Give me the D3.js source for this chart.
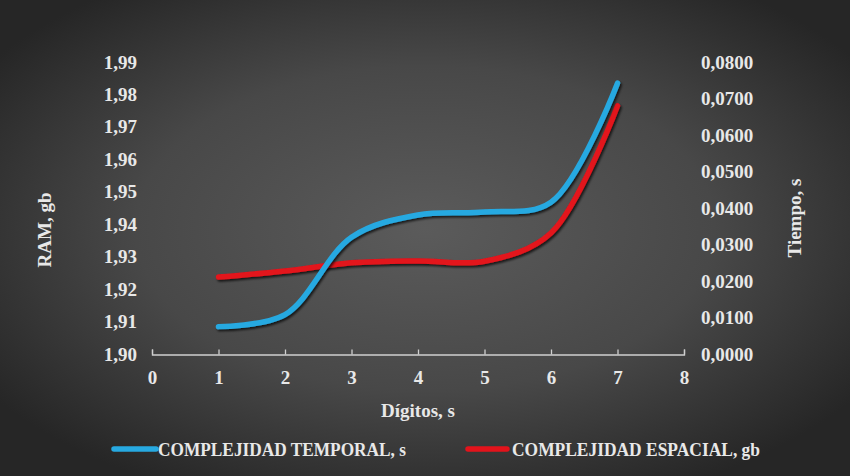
<!DOCTYPE html>
<html>
<head>
<meta charset="utf-8">
<script src="https://cdn.jsdelivr.net/npm/d3@7"></script>
<style>
  html, body { margin: 0; padding: 0; background: #2a2a2a; }
  svg { display: block; }
  .tick text { font-family: "Liberation Serif", "DejaVu Serif", serif; font-weight: bold; fill: #e8e8e8; }
</style>
</head>
<body>
<div id="chart"></div>
<script>
// Chart data
const digitos = [1, 2, 3, 4, 5, 6, 7];
const tiempo = [0.0075, 0.0108, 0.0320, 0.0381, 0.0389, 0.0416, 0.0742];   // blue, right axis
const ram = [1.9237, 1.9256, 1.9281, 1.9287, 1.9286, 1.9373, 1.9765];     // red, left axis
const xTicks = [0, 1, 2, 3, 4, 5, 6, 7, 8];
const ramTicks = [1.90, 1.91, 1.92, 1.93, 1.94, 1.95, 1.96, 1.97, 1.98, 1.99];
const tiempoTicks = [0, 0.01, 0.02, 0.03, 0.04, 0.05, 0.06, 0.07, 0.08];
const legendLabels = ["COMPLEJIDAD TEMPORAL, s", "COMPLEJIDAD ESPACIAL, gb"];

const BLUE = "#27a9e1", RED = "#e3131b";
const width = 850, height = 476;
const FONT = "'Liberation Serif', 'DejaVu Serif', serif";
const loc = d3.formatLocale({ decimal: ",", thousands: ".", grouping: [3], currency: ["", ""] });

const svg = d3.select("#chart").append("svg")
    .attr("width", width)
    .attr("height", height);

// background + shadow filter
const defs = svg.append("defs");
const grad = defs.append("radialGradient").attr("id", "bg")
    .attr("cx", "50%").attr("cy", "48%").attr("r", "62%");
grad.append("stop").attr("offset", "0%").attr("stop-color", "#5b5b5b");
grad.append("stop").attr("offset", "55%").attr("stop-color", "#484848");
grad.append("stop").attr("offset", "100%").attr("stop-color", "#262626");

const sh = defs.append("filter").attr("id", "shadow")
    .attr("x", "-10%").attr("y", "-10%").attr("width", "120%").attr("height", "120%");
sh.append("feDropShadow").attr("dx", 1.5).attr("dy", 2).attr("stdDeviation", 1.2)
    .attr("flood-color", "#000").attr("flood-opacity", 0.7);

svg.append("rect").attr("width", width).attr("height", height).attr("fill", "url(#bg)");

const x = d3.scaleLinear().domain([0, 8]).range([152, 684]);
const yL = d3.scaleLinear().domain([1.90, 1.99]).range([354, 62]);
const yR = d3.scaleLinear().domain([0, 0.08]).range([354, 62]);

// Left axis (RAM)
svg.append("g")
    .attr("transform", "translate(137,0)")
    .call(d3.axisLeft(yL).tickValues(ramTicks).tickSize(0).tickPadding(0).tickFormat(loc.format(".2f")))
    .call(g => g.select(".domain").remove())
    .selectAll("text").style("font-size", "19px");

// Right axis (Tiempo)
svg.append("g")
    .attr("transform", "translate(701,0)")
    .call(d3.axisRight(yR).tickValues(tiempoTicks).tickSize(0).tickPadding(0).tickFormat(loc.format(".4f")))
    .call(g => g.select(".domain").remove())
    .selectAll("text").style("font-size", "19px");

// X axis, ticks pointing up
const xa = svg.append("g")
    .attr("transform", "translate(0,354.5)")
    .call(d3.axisBottom(x).tickValues(xTicks).tickSizeInner(-5).tickSizeOuter(-5).tickPadding(16).tickFormat(d3.format("d")));
xa.select(".domain").attr("stroke", "#d0d0d0").attr("stroke-width", 1.3);
xa.selectAll(".tick line").attr("stroke", "#d0d0d0").attr("stroke-width", 1.3);
xa.selectAll("text").style("font-size", "19px");

// Axis titles
const title = (t) => svg.append("text")
    .attr("font-family", FONT)
    .attr("font-weight", "bold")
    .attr("font-size", 19)
    .attr("fill", "#e8e8e8")
    .attr("text-anchor", "middle")
    .text(t);

title("RAM, gb").attr("transform", "translate(51,230) rotate(-90)");
title("Tiempo, s").attr("transform", "translate(801,218) rotate(-90)");
title("Dígitos, s").attr("x", 418).attr("y", 417);

// Lines
const curve = d3.curveCatmullRom.alpha(0.5);
const lineR = d3.line().x((d, i) => x(digitos[i])).y(d => yL(d)).curve(curve);
const lineB = d3.line().x((d, i) => x(digitos[i])).y(d => yR(d)).curve(curve);

svg.append("path").datum(ram)
    .attr("d", lineR)
    .attr("fill", "none").attr("stroke", RED).attr("stroke-width", 5.5)
    .attr("stroke-linecap", "round").attr("filter", "url(#shadow)");

svg.append("path").datum(tiempo)
    .attr("d", lineB)
    .attr("fill", "none").attr("stroke", BLUE).attr("stroke-width", 5.5)
    .attr("stroke-linecap", "round").attr("filter", "url(#shadow)");

// Legend
const legend = svg.append("g");
const items = [
    { label: legendLabels[0], color: BLUE, x0: 114, x1: 156, tx: 158 },
    { label: legendLabels[1], color: RED, x0: 468, x1: 507, tx: 512 }
];
items.forEach(it => {
    legend.append("line")
        .attr("x1", it.x0).attr("x2", it.x1)
        .attr("y1", 449).attr("y2", 449)
        .attr("stroke", it.color).attr("stroke-width", 5.5)
        .attr("stroke-linecap", "round");
    legend.append("text")
        .attr("x", it.tx).attr("y", 456)
        .attr("font-family", FONT)
        .attr("font-weight", "bold")
        .attr("font-size", 19)
        .attr("textLength", 248)
        .attr("lengthAdjust", "spacingAndGlyphs")
        .attr("fill", "#e8e8e8")
        .text(it.label);
});
</script>
</body>
</html>
